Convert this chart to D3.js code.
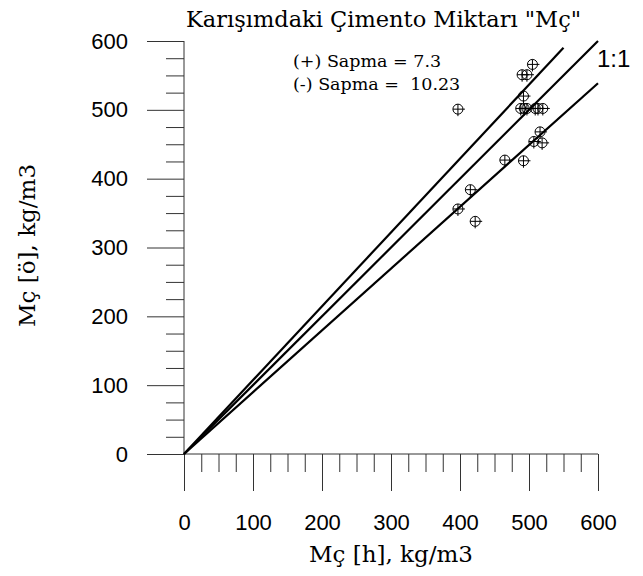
<!DOCTYPE html>
<html>
<head>
<meta charset="utf-8">
<script src="https://cdn.jsdelivr.net/npm/d3@7"></script>
<style>
  body { margin: 0; background: #fff; }
</style>
</head>
<body>
<div id="chart"></div>
<script>
// measured (h) vs predicted (ö) cement content, kg/m3
const measured  = [397, 422, 397, 415, 465, 492, 507, 519, 516, 505, 490, 497, 492, 488, 493, 497, 509, 513, 520];
const predicted = [501, 338, 356, 384, 427, 426, 454, 452, 468, 566, 551, 551, 520, 502, 502, 502, 502, 502, 502];

const majorTicks = [0, 100, 200, 300, 400, 500, 600];
const minorTicks = d3.range(0, 601, 25).filter(v => v % 100 !== 0);

// deviation lines: +7.3 %, 1:1, -10.23 %
const plusDev = 7.3;
const minusDev = 10.23;
const refSlopes = [1 + plusDev / 100, 1, 1 - minusDev / 100];
const refEndX = [550, 600, 600];

const W = 643, H = 576;
const MARGIN = { LEFT: 184, RIGHT: 45, TOP: 41, BOTTOM: 122 };

const x = d3.scaleLinear().domain([0, 600]).range([MARGIN.LEFT, W - MARGIN.RIGHT]);
const y = d3.scaleLinear().domain([0, 600]).range([H - MARGIN.BOTTOM, MARGIN.TOP]);

const svg = d3.select("#chart").append("svg")
    .attr("width", W)
    .attr("height", H)
    .style("display", "block");

const SERIF = "'DejaVu Serif', serif";
const SANS = "'Liberation Sans', Arial, sans-serif";

// y axis
const yMajor = svg.append("g")
    .attr("transform", `translate(${x(0)},0)`)
    .call(d3.axisLeft(y).tickValues(majorTicks).tickSize(37).tickPadding(19).tickFormat(d3.format("d")));
svg.append("g")
    .attr("transform", `translate(${x(0)},0)`)
    .call(d3.axisLeft(y).tickValues(minorTicks).tickSize(18).tickFormat(""))
    .select(".domain").remove();

// x axis
const xMajor = svg.append("g")
    .attr("transform", `translate(0,${y(0)})`)
    .call(d3.axisBottom(x).tickValues(majorTicks).tickSize(37).tickPadding(23).tickFormat(d3.format("d")));
svg.append("g")
    .attr("transform", `translate(0,${y(0)})`)
    .call(d3.axisBottom(x).tickValues(minorTicks).tickSize(18).tickFormat(""))
    .select(".domain").remove();

// plain axis lines, no end caps
yMajor.select(".domain").attr("d", `M0,${y(600)}V${y(0)}`);
xMajor.select(".domain").attr("d", `M${x(0)},0H${x(600)}`);

svg.selectAll(".tick line").attr("stroke", "#333");
svg.selectAll(".domain").attr("stroke", "#333");
svg.selectAll(".tick text")
    .style("font-family", SANS)
    .style("font-size", "22px")
    .attr("fill", "#000");

// reference lines
svg.append("g").selectAll("line")
    .data(refSlopes)
    .join("line")
    .attr("x1", x(0))
    .attr("y1", y(0))
    .attr("x2", (s, i) => x(refEndX[i]))
    .attr("y2", (s, i) => y(refEndX[i] * s))
    .attr("stroke", "#000")
    .attr("stroke-width", 2.2);

// data points: circle with crosshair
const pts = svg.append("g").selectAll("g")
    .data(measured.map((m, i) => [m, predicted[i]]))
    .join("g")
    .attr("transform", d => `translate(${x(d[0])},${y(d[1])})`);
pts.append("circle")
    .attr("r", 5)
    .attr("fill", "none")
    .attr("stroke", "#000")
    .attr("stroke-width", 1);
pts.append("line").attr("x1", -5).attr("x2", 7).attr("y1", 0).attr("y2", 0).attr("stroke", "#000");
pts.append("line").attr("x1", 0).attr("x2", 0).attr("y1", -5).attr("y2", 7).attr("stroke", "#000");

// texts
svg.append("text")
    .attr("x", 186)
    .attr("y", 27)
    .style("font-family", SERIF)
    .style("font-size", "22.5px")
    .text("Karışımdaki Çimento Miktarı \"Mç\"");

svg.append("text")
    .attr("x", 293)
    .attr("y", 67)
    .style("font-family", SERIF)
    .style("font-size", "17.5px")
    .text("(+) Sapma = " + plusDev);
svg.append("text")
    .attr("x", 293)
    .attr("y", 90)
    .style("font-family", SERIF)
    .style("font-size", "17.5px")
    .style("white-space", "pre")
    .text("(-) Sapma =  " + minusDev);

svg.append("text")
    .attr("x", 597)
    .attr("y", 67)
    .style("font-family", SANS)
    .style("font-size", "24px")
    .text("1:1");

svg.append("text")
    .attr("x", x(300))
    .attr("y", 562)
    .attr("text-anchor", "middle")
    .style("font-family", SERIF)
    .style("font-size", "23px")
    .text("Mç [h], kg/m3");

svg.append("text")
    .attr("transform", `translate(35,${y(300) - 2}) rotate(-90)`)
    .attr("text-anchor", "middle")
    .style("font-family", SERIF)
    .style("font-size", "23px")
    .text("Mç [ö], kg/m3");
</script>
</body>
</html>
